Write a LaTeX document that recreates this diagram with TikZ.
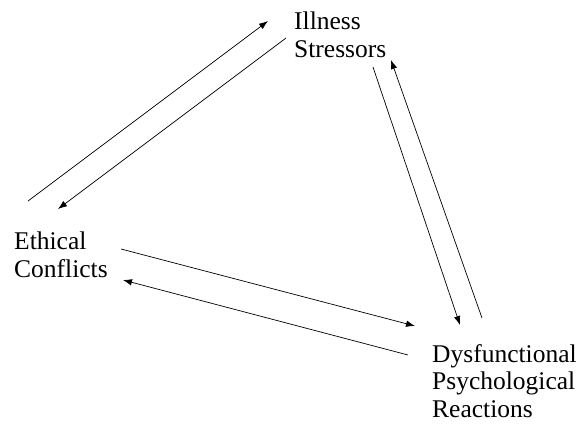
\documentclass[tikz,border=0pt]{standalone}
\usepackage{fontspec}
\setmainfont{Liberation Serif}
\usepackage{tikz}
\usetikzlibrary{arrows.meta,positioning,calc}
\tikzset{
  lbl/.style={anchor=north west, inner sep=0pt, align=left, font=\fontsize{25.5}{27.5}\selectfont},
  arr/.style={-{Latex[length=9pt,width=6.5pt]}, black, line width=0.7pt},
}
\begin{document}
\begin{tikzpicture}[x=1pt,y=-1pt]
  \useasboundingbox (0,0) rectangle (582,424);
  \node[lbl] (ill) at (294,12) {Illness\\Stressors};
  \node[lbl] (eth) at (14,232) {Ethical\\Conflicts};
  \node[lbl] (dys) at (432,344) {Dysfunctional\\Psychological\\Reactions};
  \draw[arr] ([shift={(14,-31)}]eth.north west) -- ([shift={(-26,9)}]ill.north west);
  \draw[arr] ([shift={(-8,26)}]ill.north west) -- ([shift={(44,-23)}]eth.north west);
  \draw[arr] ([shift={(79,55)}]ill.north west) -- ([shift={(28,-19)}]dys.north west);
  \draw[arr] ([shift={(50,-26)}]dys.north west) -- ([shift={(97,48)}]ill.north west);
  \draw[arr] ([shift={(107,17)}]eth.north west) -- ([shift={(-17,-18)}]dys.north west);
  \draw[arr] ([shift={(-24,11)}]dys.north west) -- ([shift={(109,48)}]eth.north west);
\end{tikzpicture}
\end{document}
